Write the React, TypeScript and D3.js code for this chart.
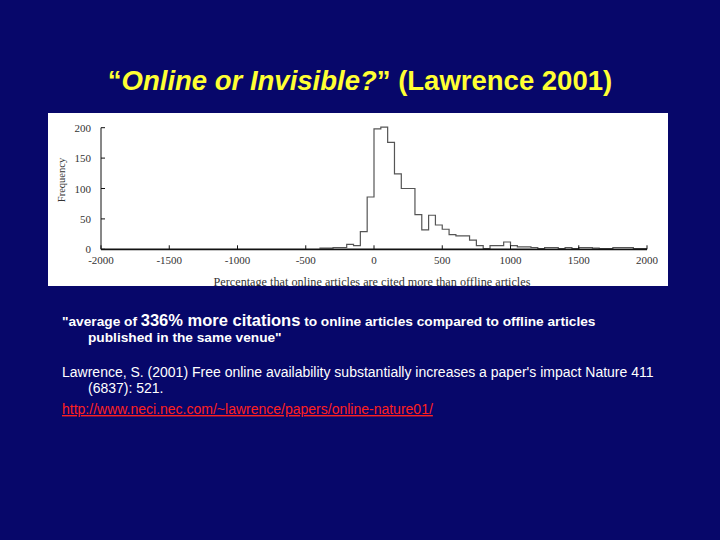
import React from "react";
import * as d3 from "d3";

const binStarts = [-400, -350, -300, -250, -200, -150, -100, -50, 0, 50, 100, 150, 200, 250, 300, 350, 400, 450, 500, 550, 600, 650, 700, 750, 800, 850, 900, 950, 1000, 1050, 1100, 1150, 1200, 1250, 1300, 1350, 1400, 1450, 1500, 1550, 1600, 1650, 1700, 1750, 1800, 1850, 1900, 1950];
const counts = [2, 2, 3, 3, 8, 6, 29, 86, 198, 201, 176, 124, 100, 100, 57, 32, 56, 40, 33, 24, 22, 22, 15, 6, 1, 6, 6, 12, 6, 4, 4, 3, 1, 3, 3, 1, 3, 1, 3, 3, 2, 1, 1, 3, 3, 3, 1, 1];
const binWidth = 50;
const xTicks = [-2000, -1500, -1000, -500, 0, 500, 1000, 1500, 2000];
const xTickLabels = ["-2000", "-1500", "-1000", "-500", "0", "500", "1000", "1500", "2000"];
const yTicks = [0, 50, 100, 150, 200];

const title1 = "\u201C";
const titleItalic = "Online or Invisible?";
const title2 = "\u201D (Lawrence 2001)";
const xAxisTitle = "Percentage that online articles are cited more than offline articles";
const yAxisTitle = "Frequency";

export default function App() {
  const x = d3.scaleLinear().domain([-2000, 2000]).range([101, 647]);
  const y = d3.scaleLinear().domain([0, 200]).range([249.3, 127.7]);

  const pts: [number, number][] = binStarts.map((b, i) => [b, counts[i]]);
  pts.push([binStarts[binStarts.length - 1] + binWidth, counts[counts.length - 1]]);
  const line = d3
    .line<[number, number]>()
    .x((d) => x(d[0]))
    .y((d) => y(d[1]))
    .curve(d3.curveStepAfter);
  const path = line(pts) || "";

  const sans = "'Liberation Sans', Arial, sans-serif";
  const serif = "'Liberation Serif', 'Times New Roman', serif";

  return (
    <svg
      width={720}
      height={540}
      style={{ position: "absolute", left: 0, top: 0 }}
    >
      <rect x={0} y={0} width={720} height={540} fill="#07076a" />
      <text x={360} y={90} textAnchor="middle" fontFamily={sans} fontWeight="bold" fontSize={27.5} fill="#ffff33">
        <tspan>{title1}</tspan>
        <tspan fontStyle="italic">{titleItalic}</tspan>
        <tspan>{title2}</tspan>
      </text>

      <rect x={48} y={113} width={620} height={173} fill="#ffffff" />
      <clipPath id="panel">
        <rect x={48} y={113} width={620} height={173} />
      </clipPath>
      <g clipPath="url(#panel)">
        <path d={path} fill="none" stroke="#555" strokeWidth={1.2} />
        <line x1={x(-2000)} x2={x(2000)} y1={y(0)} y2={y(0)} stroke="#111" strokeWidth={1.8} />
        <line x1={x(-2000)} x2={x(-2000)} y1={y(0)} y2={y(200)} stroke="#111" strokeWidth={1} />
        {xTicks.map((t, i) => (
          <g key={t}>
            <line x1={x(t)} x2={x(t)} y1={y(0)} y2={y(0) - 4} stroke="#111" strokeWidth={1} />
            <text x={x(t)} y={264} textAnchor="middle" fontFamily={serif} fontSize={11} fill="#333">
              {xTickLabels[i]}
            </text>
          </g>
        ))}
        {yTicks.map((t) => (
          <g key={t}>
            <line x1={x(-2000)} x2={x(-2000) + 4} y1={y(t)} y2={y(t)} stroke="#111" strokeWidth={1} />
            <text x={91} y={y(t) + 4} textAnchor="end" fontFamily={serif} fontSize={11} fill="#333">
              {t}
            </text>
          </g>
        ))}
        <text x={372} y={286} textAnchor="middle" fontFamily={serif} fontSize={12.2} fill="#333">
          {xAxisTitle}
        </text>
        <text
          transform={`translate(65,180) rotate(-90)`}
          textAnchor="middle"
          fontFamily={serif}
          fontSize={10.5}
          fill="#333"
        >
          {yAxisTitle}
        </text>
      </g>

      <text x={62} y={326} fontFamily={sans} fontWeight="bold" fontSize={13.7} fill="#ffffff">
        <tspan>"average of </tspan>
        <tspan fontSize={16.5}>336% more citations</tspan>
        <tspan> to online articles compared to offline articles</tspan>
      </text>
      <text x={88} y={342} fontFamily={sans} fontWeight="bold" fontSize={13.7} fill="#ffffff">
        published in the same venue"
      </text>
      <text x={62} y={377} fontFamily={sans} fontSize={14} fill="#ffffff">
        Lawrence, S. (2001) Free online availability substantially increases a paper's impact Nature 411
      </text>
      <text x={88} y={393} fontFamily={sans} fontSize={14} fill="#ffffff">
        (6837): 521.
      </text>
      <text x={62} y={414} fontFamily={sans} fontSize={14} fill="#ff2020" textDecoration="underline">
        http://www.neci.nec.com/~lawrence/papers/online-nature01/
      </text>
    </svg>
  );
}
